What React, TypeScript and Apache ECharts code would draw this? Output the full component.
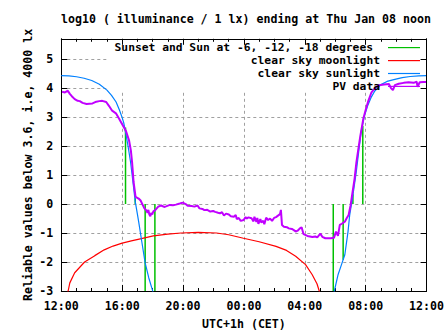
import React, { useEffect, useRef } from 'react';
import * as echarts from 'echarts';

const TITLE = 'log10 ( illuminance / 1 lx) ending at Thu Jan 08 noon';
const X_NAME = 'UTC+1h (CET)';
const Y_NAME = 'Reliable values below 3.6, i.e, 4000 lx';
const xTickLabels = ['12:00', '16:00', '20:00', '00:00', '04:00', '08:00', '12:00'];
const legendNames = [
  'Sunset and Sun at -6, -12, -18 degrees',
  'clear sky moonlight',
  'clear sky sunlight',
  'PV data',
];
const colors = ['#00c000', '#ff0000', '#0080ff', '#c000ff'];

// hours after 12:00 (Jan 07) -> value
const greenHours = [4.22, 4.86, 5.51, 6.15, 17.87, 18.52, 19.16, 19.81];
const greenTops = [2.64, 0.2, -3, -3, -3, -1.92, 0.34, 2.7];

const moonPoints: [number, number][] = [
  [0.3, -3.3], [0.45, -3.0], [0.56, -2.72], [0.88, -2.37], [1.53, -2.0], [2.2, -1.78],
  [2.82, -1.58], [3.4, -1.45], [4.0, -1.35], [4.6, -1.27], [5.19, -1.2], [6.05, -1.1],
  [7.0, -1.04], [7.87, -1.0], [9.0, -0.98], [10.2, -1.0], [11.0, -1.06], [11.97, -1.18],
  [13.0, -1.3], [14.11, -1.46], [14.8, -1.6], [15.4, -1.8], [16.05, -2.09], [16.48, -2.43],
  [16.8, -2.75], [16.95, -3.0], [17.05, -3.3],
];

const sunPoints: [number, number][] = [
  [0, 4.43], [0.5, 4.42], [1.0, 4.39], [1.5, 4.34], [2.0, 4.26], [2.5, 4.13], [3.0, 3.93],
  [3.3, 3.75], [3.6, 3.52], [3.8, 3.27], [4.0, 2.98], [4.1, 2.81], [4.25, 2.4], [4.4, 1.95],
  [4.55, 1.45], [4.7, 0.8], [4.86, 0.08], [5.0, -0.35], [5.08, -0.6], [5.29, -1.3],
  [5.51, -2.03], [5.75, -2.55], [5.98, -2.95], [6.1, -3.2],
  [17.9, -3.1], [17.94, -3.0], [18.19, -2.43], [18.41, -2.09], [18.63, -1.75], [18.84, -0.95],
  [18.95, -0.38], [19.16, 0.3], [19.38, 1.1], [19.59, 2.01], [19.7, 2.5], [19.92, 3.04],
  [20.15, 3.42], [20.35, 3.67], [20.6, 3.9], [21.0, 4.12], [21.4, 4.23], [21.85, 4.29],
  [22.4, 4.36], [22.93, 4.4], [23.5, 4.42], [24, 4.43],
];

const pvPoints: [number, number][] = [
  [0.05, 3.87], [0.24, 3.85], [0.43, 3.91], [0.56, 3.8], [0.69, 3.72], [0.88, 3.62],
  [1.08, 3.56], [1.21, 3.55], [1.4, 3.49], [1.66, 3.45], [1.85, 3.46], [2.05, 3.47],
  [2.3, 3.53], [2.5, 3.55], [2.69, 3.56], [2.95, 3.52], [3.14, 3.38], [3.34, 3.22],
  [3.59, 3.13], [3.79, 2.95], [3.99, 2.76], [4.25, 2.52], [4.45, 2.2], [4.57, 1.85],
  [4.65, 1.45], [4.75, 0.76], [4.88, 0.25], [5.08, 0.19], [5.21, 0.12], [5.34, -0.02],
  [5.46, -0.15], [5.59, -0.22], [5.66, -0.3], [5.72, -0.2], [5.78, -0.35], [5.85, -0.42],
  [5.92, -0.3], [5.98, -0.36], [6.05, -0.25], [6.17, -0.21], [6.37, -0.09], [6.56, -0.05],
  [6.76, -0.1], [6.88, -0.08], [7.14, -0.03], [7.34, -0.04], [7.53, -0.02], [7.79, 0.02],
  [7.98, 0.05], [8.17, 0.0], [8.3, -0.06], [8.56, -0.07], [8.75, -0.09], [8.95, -0.05],
  [9.08, -0.15], [9.27, -0.17], [9.4, -0.21], [9.59, -0.2], [9.79, -0.26], [9.98, -0.24],
  [10.11, -0.27], [10.3, -0.3], [10.43, -0.32], [10.56, -0.28], [10.69, -0.4], [10.82, -0.33],
  [11.01, -0.36], [11.14, -0.42], [11.34, -0.44], [11.46, -0.38], [11.53, -0.52], [11.66, -0.48],
  [11.79, -0.58], [11.98, -0.55], [12.11, -0.45], [12.17, -0.5], [12.3, -0.46], [12.5, -0.49],
  [12.63, -0.6], [12.69, -0.44], [12.82, -0.62], [12.88, -0.48], [12.95, -0.68], [13.08, -0.52],
  [13.14, -0.64], [13.27, -0.58], [13.34, -0.7], [13.46, -0.47], [13.59, -0.55], [13.72, -0.5],
  [13.85, -0.58], [13.98, -0.48], [14.11, -0.45], [14.24, -0.4], [14.37, -0.35], [14.43, -0.2],
  [14.5, -0.72], [14.63, -0.78], [14.82, -0.8], [14.95, -0.84], [15.15, -0.86], [15.28, -0.9],
  [15.4, -0.95], [15.53, -0.92], [15.66, -0.85], [15.79, -0.8], [15.92, -1.04], [16.17, -1.1],
  [16.5, -1.14], [16.69, -1.12], [16.82, -1.15], [17.02, -1.02], [17.15, -1.13], [17.35, -1.18],
  [17.72, -1.18], [17.92, -1.16], [18.05, -0.95], [18.18, -1.1], [18.3, -0.72], [18.43, -0.68],
  [18.63, -0.61], [18.75, -0.49], [18.88, -0.38], [19.01, -0.04], [19.14, 0.42], [19.27, 0.87],
  [19.39, 1.44], [19.52, 1.9], [19.65, 2.35], [19.75, 2.65], [19.85, 2.95], [19.98, 3.21],
  [20.17, 3.55], [20.37, 3.84], [20.63, 4.01], [20.88, 4.1], [21.21, 4.12], [21.53, 4.14],
  [21.66, 4.0], [21.79, 3.93], [21.92, 4.1], [22.17, 4.15], [22.5, 4.18], [22.82, 4.2],
  [23.15, 4.18], [23.35, 4.22], [23.41, 4.04], [23.55, 4.2], [23.8, 4.21], [23.98, 4.21],
];

const FONT = '"DejaVu Sans Mono", monospace';
const FS = 11.6;
const LEGEND_FS = 11.3;
const txt = { fontFamily: FONT, fontSize: FS, fontWeight: 'bold' as const, color: '#000' };

export default function App() {
  const ref = useRef<HTMLDivElement>(null);
  useEffect(() => {
    if (!ref.current) return;
    const chart = echarts.init(ref.current, undefined, { renderer: 'svg' });

    const greenData: any[] = [];
    greenHours.forEach((h, i) => {
      greenData.push([h, 0], [h, greenTops[i]], [h, '-']);
    });

    const axisLine = { show: true, onZero: false, lineStyle: { color: '#000', width: 1 } };
    const tick = { show: true, inside: true, length: 6, lineStyle: { color: '#000', width: 1 } };
    const minor = { show: true, splitNumber: 4, length: 3, lineStyle: { color: '#000', width: 1 } };
    const split = { show: true, lineStyle: { color: '#a0a0a0', width: 1, type: [3, 3] } };

    const legendRowY = [47.6, 60.6, 73.5, 86.4];
    const legendRight = [373, 380, 380, 380];
    const legendGraphics: any[] = [];
    legendNames.forEach((name, i) => {
      legendGraphics.push({
        type: 'text',
        x: legendRight[i],
        y: legendRowY[i],
        z: 10,
        style: {
          text: name, fill: '#000', font: `bold ${LEGEND_FS}px ${FONT}`, lineHeight: 11,
          align: 'right', verticalAlign: 'middle',
        },
      });
      legendGraphics.push({
        type: 'line',
        z: 10,
        shape: { x1: 388, y1: legendRowY[i], x2: 420, y2: legendRowY[i] },
        style: { stroke: colors[i], lineWidth: 1.2 },
      });
    });

    chart.setOption({
      animation: false,
      backgroundColor: '#fff',
      title: {
        text: TITLE,
        left: 61,
        top: 12,
        padding: 0,
        textStyle: { ...txt, lineHeight: 14 },
      },
      grid: { left: 61.3, right: 13.7, top: 38.8, bottom: 41.7, containLabel: false },
      xAxis: [
        {
          type: 'value', min: 0, max: 24, interval: 4, position: 'bottom',
          axisLine, axisTick: tick, minorTick: minor, splitLine: split,
          axisLabel: { ...txt, margin: 8.5, formatter: (v: number) => xTickLabels[Math.round(v / 4)] ?? '' },
          name: X_NAME, nameLocation: 'middle', nameGap: 27, nameMoveOverlap: false, nameTextStyle: txt,
        },
        {
          type: 'value', min: 0, max: 24, interval: 4, position: 'top', z: 3,
          axisLine, axisTick: tick, minorTick: minor, splitLine: { show: false },
          axisLabel: { show: false },
        },
      ],
      yAxis: [
        {
          type: 'value', min: -3, max: 5.7, interval: 1, position: 'left',
          axisLine, axisTick: tick, splitLine: split,
          axisLabel: { ...txt, margin: 8, formatter: (v: number) => (Number.isInteger(v) ? String(v) : '') },
          name: Y_NAME, nameLocation: 'middle', nameRotate: 90, nameGap: 27, nameMoveOverlap: false,
          nameTextStyle: txt,
        },
        {
          type: 'value', min: -3, max: 5.7, interval: 1, position: 'right', z: 3,
          axisLine, axisTick: tick, splitLine: { show: false }, axisLabel: { show: false },
        },
      ],
      graphic: {
        elements: [
          { type: 'rect', z: 1, shape: { x: 108, y: 40, width: 319, height: 52 }, style: { fill: '#fff' } },
          ...legendGraphics,
        ],
      },
      series: [
        {
          name: legendNames[0], type: 'line', data: greenData, showSymbol: false, symbol: 'none',
          lineStyle: { color: colors[0], width: 1.5 }, z: 2,
        },
        {
          name: legendNames[1], type: 'line', data: moonPoints, showSymbol: false, symbol: 'none',
          lineStyle: { color: colors[1], width: 1.2 }, z: 2,
        },
        {
          name: legendNames[2], type: 'line', data: sunPoints.slice(0, 24), showSymbol: false, symbol: 'none',
          lineStyle: { color: colors[2], width: 1.2 }, z: 2,
        },
        {
          name: legendNames[2], type: 'line', data: sunPoints.slice(24), showSymbol: false, symbol: 'none',
          lineStyle: { color: colors[2], width: 1.2 }, z: 2,
        },
        {
          name: legendNames[3], type: 'line', data: pvPoints, showSymbol: false, symbol: 'none',
          lineStyle: { color: colors[3], width: 2 }, z: 2,
        },
      ],
    });
    return () => chart.dispose();
  }, []);
  return (
    <div
      ref={ref}
      style={{ position: 'fixed', left: 0, top: 0, width: 447, height: 335, background: '#fff' }}
    />
  );
}
